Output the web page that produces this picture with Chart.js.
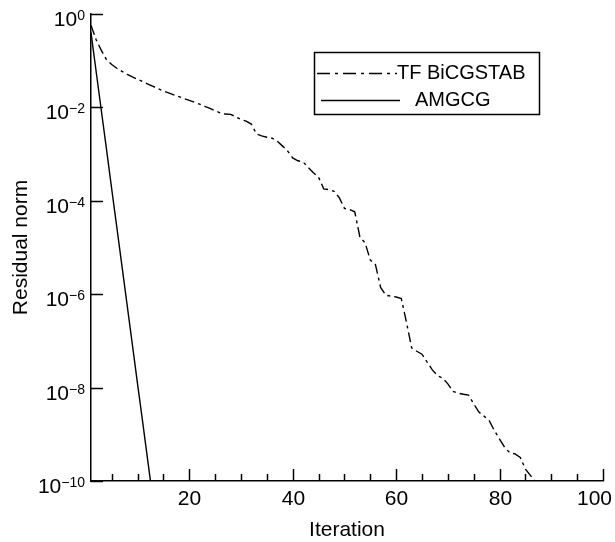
<!DOCTYPE html>
<html lang="en">
<head>
    <meta charset="UTF-8">
    <title>Residual norm vs iteration</title>
    <style>
        body {
            margin: 0;
            padding: 0;
            background: #ffffff;
        }
        #residualChart {
            display: block;
        }
    </style>
    <script src="https://cdn.jsdelivr.net/npm/chart.js"></script>
</head>
<body>

<canvas id="residualChart" width="615" height="542"></canvas>

<script>
    // Iteration numbers and residual norms
    const bicgIterations = [
        1, 2, 3, 4, 5, 6, 7, 8, 9, 10, 11, 12, 13, 14, 15, 16, 17, 18, 19, 20,
        21, 22, 23, 24, 25, 26, 27, 28, 29, 30, 31, 32, 33, 34, 35, 36, 37, 38, 39, 40,
        41, 42, 43, 44, 45, 46, 47, 48, 49, 50, 51, 52, 53, 54, 55, 56, 57, 58, 59, 60,
        61, 62, 63, 64, 65, 66, 67, 68, 69, 70, 71, 72, 73, 74, 75, 76, 77, 78, 79, 80,
        81, 82, 83, 84, 85, 86, 87
    ];
    const bicgResidual = [
        5.75e-1, 2.8e-1, 1.66e-1, 1.05e-1, 8.3e-2, 6.9e-2, 5.9e-2, 5.1e-2, 4.5e-2, 4.0e-2,
        3.55e-2, 3.16e-2, 2.82e-2, 2.51e-2, 2.24e-2, 2.04e-2, 1.86e-2, 1.70e-2, 1.55e-2, 1.41e-2,
        1.29e-2, 1.17e-2, 1.05e-2, 9.5e-3, 8.5e-3, 7.6e-3, 7.2e-3, 7.1e-3, 6.3e-3, 5.5e-3,
        5.1e-3, 4.4e-3, 2.7e-3, 2.45e-3, 2.3e-3, 2.2e-3, 1.9e-3, 1.5e-3, 1.17e-3, 8.3e-4,
        7.2e-4, 6.8e-4, 5.2e-4, 4.0e-4, 3.2e-4, 1.8e-4, 1.74e-4, 1.6e-4, 1.17e-4, 6.9e-5,
        6.5e-5, 5.8e-5, 1.66e-5, 1.26e-5, 5.4e-6, 4.3e-6, 1.4e-6, 9.5e-7, 9.1e-7, 8.7e-7,
        8.1e-7, 2.5e-7, 7.1e-8, 6.0e-8, 5.2e-8, 3.5e-8, 2.4e-8, 1.8e-8, 1.6e-8, 1.2e-8,
        8.3e-9, 7.6e-9, 7.2e-9, 6.9e-9, 4.5e-9, 3.0e-9, 2.45e-9, 1.95e-9, 1.2e-9, 7.9e-10,
        5.2e-10, 4.0e-10, 3.8e-10, 3.2e-10, 1.8e-10, 1.3e-10, 9.5e-11
    ];

    const amgIterations = [1, 2, 3, 4, 5, 6, 7, 8, 9, 10, 11, 12, 13];
    const amgResidual = [
        4.0e-1, 5.8e-2, 8.5e-3, 1.26e-3, 1.8e-4, 2.66e-5, 3.9e-6,
        5.7e-7, 8.3e-8, 1.2e-8, 1.8e-9, 2.6e-10, 3.8e-11
    ];

    const seriesNames = ['TF BiCGSTAB', 'AMGCG'];
    const yTickExponents = [0, -2, -4, -6, -8, -10];
    const xMajorTicks = [20, 40, 60, 80, 100];
    const xMinorTicks = [5, 10, 15, 25, 30, 35, 45, 50, 55, 65, 70, 75, 85, 90, 95];

    const FONT = '"Liberation Sans", Arial, Helvetica, sans-serif';
    const dashDot = [10, 4, 3, 4];

    function toPoints(xs, ys) {
        return xs.map((x, i) => ({ x: x, y: ys[i] }));
    }

    // Inward ticks, superscript labels, axis titles and the boxed legend
    const decorations = {
        id: 'decorations',
        afterDraw(chart) {
            const ctx = chart.ctx;
            const area = chart.chartArea;
            const xs = chart.scales.x;
            const ys = chart.scales.y;

            ctx.save();
            ctx.strokeStyle = '#000';
            ctx.fillStyle = '#000';
            ctx.lineWidth = 1.5;

            // y ticks + labels
            yTickExponents.forEach(exp => {
                const y = Math.round(ys.getPixelForValue(Math.pow(10, exp))) + 0.5;
                ctx.beginPath();
                ctx.moveTo(area.left, y);
                ctx.lineTo(area.left + 12, y);
                ctx.stroke();

                const sup = exp === 0 ? '0' : '\u2212' + (-exp);
                ctx.font = '14px ' + FONT;
                ctx.textAlign = 'right';
                ctx.textBaseline = 'alphabetic';
                const supW = ctx.measureText(sup).width;
                ctx.fillText(sup, area.left - 6, y + 5);
                ctx.font = '21px ' + FONT;
                ctx.fillText('10', area.left - 6 - supW, y + 11.5);
            });

            // x ticks + labels (last label kept inside the canvas)
            ctx.font = '21px ' + FONT;
            xMajorTicks.forEach(v => {
                const x = Math.round(xs.getPixelForValue(v)) + 0.5;
                ctx.beginPath();
                ctx.moveTo(x, area.bottom);
                ctx.lineTo(x, area.bottom - 12);
                ctx.stroke();
                const txt = String(v);
                const w = ctx.measureText(txt).width;
                const cx = Math.min(x, chart.width - 3 - w / 2);
                ctx.textAlign = 'center';
                ctx.fillText(txt, cx, area.bottom + 24);
            });
            xMinorTicks.forEach(v => {
                const x = Math.round(xs.getPixelForValue(v)) + 0.5;
                ctx.beginPath();
                ctx.moveTo(x, area.bottom);
                ctx.lineTo(x, area.bottom - 7);
                ctx.stroke();
            });

            // axis titles
            ctx.font = '21px ' + FONT;
            ctx.textAlign = 'center';
            ctx.fillText('Iteration', (area.left + area.right) / 2, 536);
            ctx.save();
            ctx.translate(27, (area.top + area.bottom) / 2);
            ctx.rotate(-Math.PI / 2);
            ctx.fillText('Residual norm', 0, 0);
            ctx.restore();

            // legend
            ctx.lineWidth = 1.5;
            ctx.strokeRect(314.5, 52.5, 225, 62);
            ctx.font = '20px ' + FONT;
            ctx.textAlign = 'left';

            ctx.beginPath();
            ctx.setLineDash([13, 5, 3, 5]);
            ctx.moveTo(317, 73.5);
            ctx.lineTo(397, 73.5);
            ctx.stroke();
            ctx.setLineDash([]);
            ctx.fillText(seriesNames[0], 397, 79);

            ctx.beginPath();
            ctx.moveTo(321, 100.5);
            ctx.lineTo(400, 100.5);
            ctx.stroke();
            ctx.fillText(seriesNames[1], 415, 106);

            ctx.restore();
        }
    };

    const ctx = document.getElementById('residualChart').getContext('2d');
    const residualChart = new Chart(ctx, {
        type: 'line',
        data: {
            datasets: [{
                label: seriesNames[0],
                data: toPoints(bicgIterations, bicgResidual),
                borderColor: '#000',
                borderWidth: 1.4,
                borderDash: dashDot,
                pointRadius: 0,
                fill: false,
                tension: 0
            }, {
                label: seriesNames[1],
                data: toPoints(amgIterations, amgResidual),
                borderColor: '#000',
                borderWidth: 1.4,
                pointRadius: 0,
                fill: false,
                tension: 0
            }]
        },
        options: {
            responsive: false,
            animation: false,
            devicePixelRatio: 1,
            layout: {
                padding: { top: 14, right: 12, left: 0, bottom: 0 }
            },
            plugins: {
                legend: { display: false },
                tooltip: { enabled: false }
            },
            scales: {
                x: {
                    type: 'linear',
                    min: 1,
                    max: 100,
                    ticks: { display: false },
                    grid: { display: true, drawOnChartArea: false, drawTicks: false },
                    border: { display: true, color: '#000', width: 1.5 },
                    afterFit: s => { s.height = 61; }
                },
                y: {
                    type: 'logarithmic',
                    min: 1e-10,
                    max: 1,
                    ticks: { display: false },
                    grid: { display: true, drawOnChartArea: false, drawTicks: false },
                    border: { display: true, color: '#000', width: 1.5 },
                    afterFit: s => { s.width = 91; }
                }
            }
        },
        plugins: [decorations]
    });
</script>

</body>
</html>
